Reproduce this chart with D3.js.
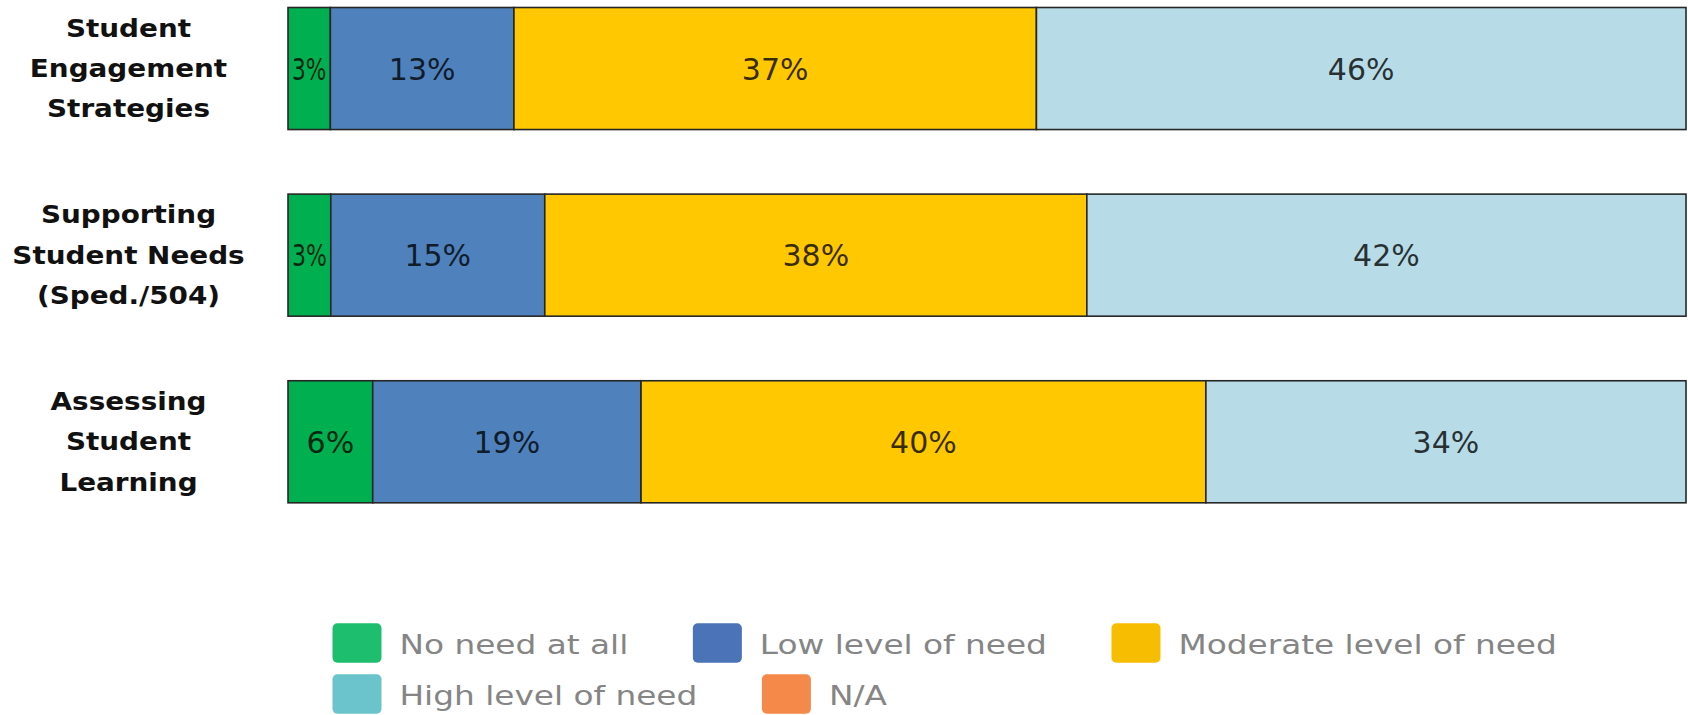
<!DOCTYPE html>
<html><head><meta charset="utf-8">
<script src="https://cdn.jsdelivr.net/npm/d3@7/dist/d3.min.js"></script>
<style>html,body{margin:0;padding:0;background:#fff;overflow:hidden}</style>
</head><body>
<svg id="chart" width="1688" height="715"></svg>
<script>
// ---- data ----
const categories = ["Student\nEngagement\nStrategies", "Supporting\nStudent Needs\n(Sped./504)", "Assessing\nStudent\nLearning"];
const series = ["No need at all", "Low level of need", "Moderate level of need", "High level of need", "N/A"];
const noNeed = [3, 3, 6];
const lowNeed = [13, 15, 19];
const moderateNeed = [37, 38, 40];
const highNeed = [46, 42, 34];
const naNeed = [0, 0, 0];
const barColors = ["#00B050", "#4F81BD", "#FFC800", "#B7DCE8", "#F5894A"];
const legendColors = ["#1DBE6E", "#4A73B8", "#F7BD00", "#6BC3CB", "#F5894A"];

const rows = categories.map((c, i) => ({
  cat: c,
  [series[0]]: noNeed[i], [series[1]]: lowNeed[i], [series[2]]: moderateNeed[i],
  [series[3]]: highNeed[i], [series[4]]: naNeed[i]
}));

const svg = d3.select("#chart");
const x = d3.scaleLinear().domain([0, 1]).range([288, 1686]);
const y = d3.scaleBand().domain(categories).range([7.5, 502.8]).paddingInner(0.346).paddingOuter(0);
const color = d3.scaleOrdinal().domain(series).range(barColors);
const legendColor = d3.scaleOrdinal().domain(series).range(legendColors);

const stacked = d3.stack().keys(series).offset(d3.stackOffsetExpand)(rows);

// bars
const layers = svg.append("g").selectAll("g").data(stacked).join("g")
  .attr("fill", d => color(d.key));
layers.selectAll("rect").data(d => d.filter(p => p[1] - p[0] > 0)).join("rect")
  .attr("x", d => x(d[0]))
  .attr("y", d => y(d.data.cat))
  .attr("width", d => x(d[1]) - x(d[0]))
  .attr("height", y.bandwidth())
  .attr("stroke", "#262626")
  .attr("stroke-width", 1.6);

// value labels
const labelG = svg.append("g");
stacked.forEach(layer => {
  layer.forEach(p => {
    const v = p.data[layer.key];
    if (!(v > 0)) return;
    const segW = x(p[1]) - x(p[0]);
    const t = labelG.append("text")
      .attr("x", (x(p[0]) + x(p[1])) / 2)
      .attr("y", y(p.data.cat) + y.bandwidth() / 2 + 11)
      .attr("text-anchor", "middle")
      .attr("font-family", "DejaVu Sans")
      .attr("font-size", 30)
      .attr("fill", "#000")
      .attr("fill-opacity", 0.8)
      .text(v + "%");
    const tw = t.node().getComputedTextLength();
    if (tw > segW - 8) {
      t.attr("textLength", segW - 8).attr("lengthAdjust", "spacingAndGlyphs");
    }
  });
});

// category labels
const catG = svg.append("g");
categories.forEach(c => {
  const cy = y(c) + y.bandwidth() / 2;
  const lines = c.split("\n");
  const t = catG.append("text")
    .attr("transform", `translate(128.5,${cy + 8.5}) scale(1.16,1)`)
    .attr("text-anchor", "middle")
    .attr("font-family", "DejaVu Sans")
    .attr("font-weight", "bold")
    .attr("font-size", 24)
    .attr("fill", "#111");
  lines.forEach((ln, i) => {
    t.append("tspan").attr("x", 0).attr("y", (i - (lines.length - 1) / 2) * 40.3).text(ln);
  });
});

// legend (flow layout)
const legendG = svg.append("g");
const swW = 49, swH = 39.5, txtGap = 18, itemGap = 64.5, rowPitch = 51, textScale = 1.26;
let lx = 332.5, ly = 623.3;
const maxRight = 1620;
series.forEach(s => {
  const g = legendG.append("g");
  const t = g.append("text")
    .attr("font-family", "DejaVu Sans")
    .attr("font-size", 26)
    .attr("fill", "#858585")
    .text(s);
  const tw = t.node().getComputedTextLength() * textScale;
  const itemW = swW + txtGap + tw;
  if (lx + itemW > maxRight) { lx = 332.5; ly += rowPitch; }
  g.insert("rect", "text")
    .attr("x", lx).attr("y", ly).attr("width", swW).attr("height", swH)
    .attr("rx", 5).attr("ry", 5)
    .attr("fill", legendColor(s));
  t.attr("transform", `translate(${lx + swW + txtGap},${ly + 31}) scale(${textScale},1)`);
  lx += itemW + itemGap;
});
</script>
</body></html>
